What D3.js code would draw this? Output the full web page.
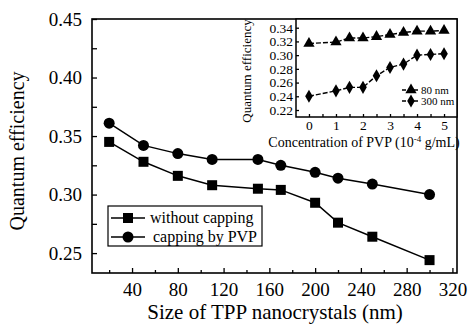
<!DOCTYPE html>
<meta charset="utf-8">
<script src="https://d3js.org/d3.v7.min.js"></script>
<style>
  body { margin: 0; background: #fff; }
  text { font-family: "Liberation Serif", "Times New Roman", serif; fill: #000; }
  .frame { fill: none; stroke: #000; stroke-width: 1.6px; }
  .tick line { stroke: #000; stroke-width: 1.3px; }
  .domain { display: none; }
</style>
<body>
<div id="chart"></div>
<script>
  // main chart data
  const sizes = [20, 50, 80, 110, 150, 170, 200, 220, 250, 300];
  const noCapping = [0.345, 0.328, 0.316, 0.308, 0.305, 0.304, 0.293, 0.276, 0.264, 0.244];
  const pvpCapping = [0.361, 0.342, 0.335, 0.330, 0.330, 0.325, 0.319, 0.314, 0.309, 0.300];
  const mainXTicks = [40, 80, 120, 160, 200, 240, 280, 320];
  const mainYTicks = [0.25, 0.30, 0.35, 0.40, 0.45];

  // inset data
  const conc = [0, 1, 1.5, 2, 2.5, 3, 3.5, 4, 4.5, 5];
  const nm80 = [0.317, 0.319, 0.325, 0.325, 0.327, 0.330, 0.333, 0.335, 0.335, 0.336];
  const nm300 = [0.240, 0.248, 0.253, 0.253, 0.270, 0.282, 0.287, 0.300, 0.301, 0.302];
  const insetXTicks = [0, 1, 2, 3, 4, 5];
  const insetYTicks = [0.22, 0.24, 0.26, 0.28, 0.30, 0.32, 0.34];

  const W = 468, H = 326;
  const svg = d3.select("#chart").append("svg").attr("width", W).attr("height", H);

  // ---------- main plot ----------
  const m = {left: 92, right: 457, top: 19, bottom: 273};
  const x = d3.scaleLinear().domain([5, 324]).range([m.left, m.right]);
  const y = d3.scaleLinear().domain([0.233, 0.45]).range([m.bottom, m.top]);

  svg.append("rect").attr("class", "frame")
    .attr("x", m.left).attr("y", m.top)
    .attr("width", m.right - m.left).attr("height", m.bottom - m.top);

  // inward ticks, minor ones without labels
  const xAx = svg.append("g").attr("transform", `translate(0,${m.bottom})`)
    .call(d3.axisBottom(x).tickValues(d3.range(20, 321, 20)).tickSize(-5).tickPadding(10)
      .tickFormat(d => mainXTicks.includes(d) ? d : ""));
  xAx.selectAll("text").style("font-size", "19px");
  xAx.selectAll(".tick").filter(d => !mainXTicks.includes(d)).select("line").attr("y2", -3);

  const yAx = svg.append("g").attr("transform", `translate(${m.left},0)`)
    .call(d3.axisLeft(y).tickValues([0.25, 0.275, 0.30, 0.325, 0.35, 0.375, 0.40, 0.425, 0.45])
      .tickSize(-5).tickPadding(10)
      .tickFormat(d => mainYTicks.some(t => Math.abs(t - d) < 1e-9) ? d3.format(".2f")(d) : ""));
  yAx.selectAll("text").style("font-size", "19px");

  const line = d3.line().x(d => x(d[0])).y(d => y(d[1]));
  const sq = d3.zip(sizes, noCapping);
  const ci = d3.zip(sizes, pvpCapping);

  svg.append("path").datum(sq).attr("d", line)
    .attr("fill", "none").attr("stroke", "#000").attr("stroke-width", 1.5);
  svg.append("path").datum(ci).attr("d", line)
    .attr("fill", "none").attr("stroke", "#000").attr("stroke-width", 1.5);

  svg.selectAll(".sq").data(sq).enter().append("rect")
    .attr("x", d => x(d[0]) - 5).attr("y", d => y(d[1]) - 5)
    .attr("width", 10).attr("height", 10).attr("fill", "#000");
  svg.selectAll(".ci").data(ci).enter().append("circle")
    .attr("cx", d => x(d[0])).attr("cy", d => y(d[1])).attr("r", 5.5).attr("fill", "#000");

  svg.append("text")
    .attr("transform", `translate(24,${(m.top + m.bottom) / 2 + 5}) rotate(-90)`)
    .attr("text-anchor", "middle").style("font-size", "20px")
    .text("Quantum efficiency");
  svg.append("text")
    .attr("x", 275).attr("y", 319)
    .attr("text-anchor", "middle").style("font-size", "21px")
    .text("Size of TPP nanocrystals (nm)");

  // legend
  const lg = svg.append("g");
  lg.append("rect").attr("x", 108).attr("y", 206).attr("width", 154).attr("height", 40)
    .attr("fill", "#fff").attr("stroke", "#000").attr("stroke-width", 1.2);
  const legendRows = [["without capping", "sq", 218], ["capping by PVP", "ci", 237]];
  legendRows.forEach(([label, mk, ly]) => {
    lg.append("line").attr("x1", 111).attr("x2", 145).attr("y1", ly).attr("y2", ly)
      .attr("stroke", "#000").attr("stroke-width", 1.5);
    if (mk === "sq") lg.append("rect").attr("x", 123).attr("y", ly - 5).attr("width", 10).attr("height", 10);
    else lg.append("circle").attr("cx", 128).attr("cy", ly).attr("r", 5.5);
    lg.append("text").attr("x", mk === "sq" ? 150 : 153).attr("y", ly + 5)
      .style("font-size", "16px").text(label);
  });

  // ---------- inset ----------
  const n = {left: 296, right: 457, top: 19, bottom: 117};
  const ix = d3.scaleLinear().domain([-0.48, 5.48]).range([n.left, n.right]);
  const iy = d3.scaleLinear().domain([0.2098, 0.3527]).range([n.bottom, n.top]);

  svg.append("rect").attr("x", n.left).attr("y", n.top)
    .attr("width", n.right - n.left).attr("height", n.bottom - n.top)
    .attr("fill", "#fff").attr("stroke", "#000").attr("stroke-width", 1.5);

  const ixAx = svg.append("g").attr("transform", `translate(0,${n.bottom})`)
    .call(d3.axisBottom(ix).tickValues(d3.range(0, 5.01, 0.5)).tickSize(-3).tickPadding(3)
      .tickFormat(d => insetXTicks.includes(d) ? d : ""));
  ixAx.selectAll("text").style("font-size", "13.5px");

  const iyAx = svg.append("g").attr("transform", `translate(${n.left},0)`)
    .call(d3.axisLeft(iy).tickValues(insetYTicks).tickSize(-3).tickPadding(3)
      .tickFormat(d3.format(".2f")));
  iyAx.selectAll("text").style("font-size", "13.5px");

  const iline = d3.line().x(d => ix(d[0])).y(d => iy(d[1]));
  const tri = d3.zip(conc, nm80);
  const dia = d3.zip(conc, nm300);
  [tri, dia].forEach(s => {
    svg.append("path").datum(s).attr("d", iline)
      .attr("fill", "none").attr("stroke", "#000").attr("stroke-width", 1.4)
      .attr("stroke-dasharray", "5,2");
  });
  const triSym = d3.symbol().type(d3.symbolTriangle).size(55);
  const diaSym = d3.symbol().type(d3.symbolDiamond).size(50);
  svg.selectAll(".tri").data(tri).enter().append("path")
    .attr("d", triSym).attr("transform", d => `translate(${ix(d[0])},${iy(d[1])})`);
  svg.selectAll(".dia").data(dia).enter().append("path")
    .attr("d", diaSym).attr("transform", d => `translate(${ix(d[0])},${iy(d[1])})`);

  svg.append("text")
    .attr("transform", `translate(251,${(n.top + n.bottom) / 2 + 3}) rotate(-90)`)
    .attr("text-anchor", "middle").style("font-size", "13px")
    .text("Quantum efficiency");
  const ct = svg.append("text").attr("x", 364).attr("y", 147)
    .attr("text-anchor", "middle").style("font-size", "14px");
  ct.append("tspan").text("Concentration of PVP (10");
  ct.append("tspan").attr("dy", -5).style("font-size", "9px").text("-4");
  ct.append("tspan").attr("dy", 5).text(" g/mL)");

  // inset legend
  const il = [["80 nm", triSym, 90], ["300 nm", diaSym, 101]];
  il.forEach(([label, sym, ly]) => {
    svg.append("line").attr("x1", 402).attr("x2", 420).attr("y1", ly).attr("y2", ly)
      .attr("stroke", "#000").attr("stroke-width", 1.4).attr("stroke-dasharray", "4,2");
    svg.append("path").attr("d", sym).attr("transform", `translate(411,${ly})`);
    svg.append("text").attr("x", 421).attr("y", ly + 4)
      .style("font-size", "11px").text(label);
  });
</script>
</body>
